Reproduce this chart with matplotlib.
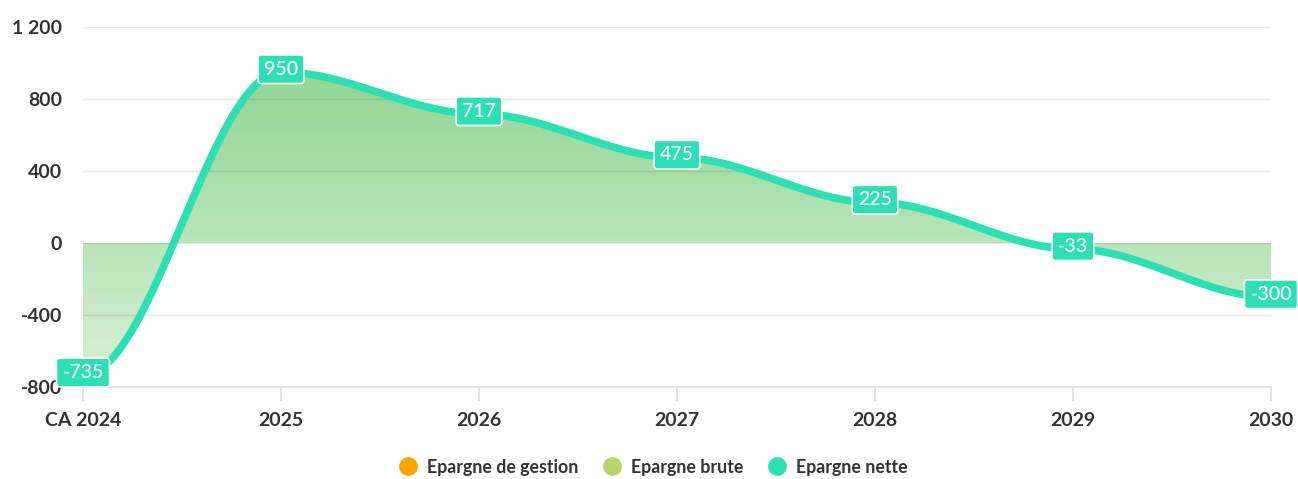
import numpy as np
import matplotlib
matplotlib.use("Agg")
import matplotlib.pyplot as plt
from matplotlib.lines import Line2D
from matplotlib.patches import PathPatch
from matplotlib.path import Path

plt.rcParams['font.family'] = ['Lato', 'DejaVu Sans']

categories = ["CA 2024", "2025", "2026", "2027", "2028", "2029", "2030"]
epargne_nette = [-735, 950, 717, 475, 225, -33, -300]
yticks = [-800, -400, 0, 400, 800, 1200]
ytick_labels = ["-800", "-400", "0", "400", "800", "1 200"]
legend_names = ["Epargne de gestion", "Epargne brute", "Epargne nette"]
legend_colors = ["#ffa500", "#b5d56a", "#2ddfb5"]

LINE = "#2ddfb5"
TEXT = "#333333"


def smooth_curve(xs, ys, arm=0.35, n=80):
    """Cubic segments with flat tangents at every data point."""
    t = np.linspace(0, 1, n)
    X, Y = [], []
    for i in range(1, len(xs)):
        x0, y0, x3, y3 = xs[i - 1], ys[i - 1], xs[i], ys[i]
        w = (x3 - x0) * arm
        p = np.array([[x0, y0], [x0 + w, y0], [x3 - w, y3], [x3, y3]], dtype=float)
        b = ((1 - t) ** 3)[:, None] * p[0] + (3 * (1 - t) ** 2 * t)[:, None] * p[1] \
            + (3 * (1 - t) * t ** 2)[:, None] * p[2] + (t ** 3)[:, None] * p[3]
        if i > 1:
            b = b[1:]
        X.extend(b[:, 0]); Y.extend(b[:, 1])
    return np.array(X), np.array(Y)


fig = plt.figure(figsize=(12.98, 4.79), dpi=100)
ax = fig.add_axes([83 / 1298, 1 - 387 / 479, (1271 - 83) / 1298, (387 - 27) / 479])

x = np.arange(len(categories))
cx, cy = smooth_curve(x, epargne_nette)

ax.set_xlim(0, len(categories) - 1)
ax.set_ylim(-800, 1200)

# gradient area between the curve and zero
verts = np.concatenate([np.column_stack([cx, cy]),
                        [[cx[-1], 0], [cx[0], 0]]])
patch = PathPatch(Path(verts), facecolor="none", edgecolor="none")
ax.add_patch(patch)
top_c = np.array([146, 214, 148]) / 255
bot_c = np.array([218, 241, 213]) / 255
yy = np.linspace(1200, -800, 400)
frac = np.clip((950 - yy) / (950 + 800), 0, 1)
grad = top_c[None, :] * (1 - frac[:, None]) + bot_c[None, :] * frac[:, None]
img = ax.imshow(grad[:, None, :], extent=[0, len(categories) - 1, -800, 1200],
                aspect="auto", origin="upper", zorder=1, interpolation="bilinear")
img.set_clip_path(patch)

# grid
for v in yticks[1:]:
    ax.axhline(v, color=(0, 0, 0, 0.09), lw=1, zorder=2)

ax.plot(cx, cy, color=LINE, lw=5.5, solid_capstyle="round", zorder=3)

for xi, v in zip(x, epargne_nette):
    ax.annotate(f"{v}", (xi, v), xytext=(0, 2), textcoords="offset points",
                ha="center", va="center", color="white",
                fontsize=14, fontweight="medium", zorder=5,
                bbox=dict(boxstyle="round,pad=0.3,rounding_size=0.15",
                          facecolor=LINE, edgecolor="white", linewidth=1.2))

for s in ["top", "right", "left"]:
    ax.spines[s].set_visible(False)
ax.spines["bottom"].set_color("#d9dde3")
ax.spines["bottom"].set_linewidth(1.2)

ax.set_xticks(x)
ax.set_xticklabels(categories)
ax.set_yticks(yticks)
ax.set_yticklabels(ytick_labels)
ax.tick_params(axis="x", length=10, color="#d9dde3", width=1.2, pad=8,
               labelsize=14, labelcolor=TEXT)
ax.tick_params(axis="y", length=0, pad=15, labelsize=14, labelcolor=TEXT)
for lab in ax.get_xticklabels() + ax.get_yticklabels():
    lab.set_fontweight("bold")

handles = [Line2D([], [], marker="o", ls="none", markersize=12.5,
                  markerfacecolor=c, markeredgecolor=c) for c in legend_colors]
leg = fig.legend(handles, legend_names, loc="center", bbox_to_anchor=(0.5, 1 - 467 / 479),
                 ncol=3, frameon=False, handletextpad=0.05, columnspacing=0.9,
                 prop={"family": "Lato", "weight": "bold", "size": 12.8})
for t in leg.get_texts():
    t.set_color(TEXT)

fig.savefig("out.png", dpi=100, facecolor="white")
